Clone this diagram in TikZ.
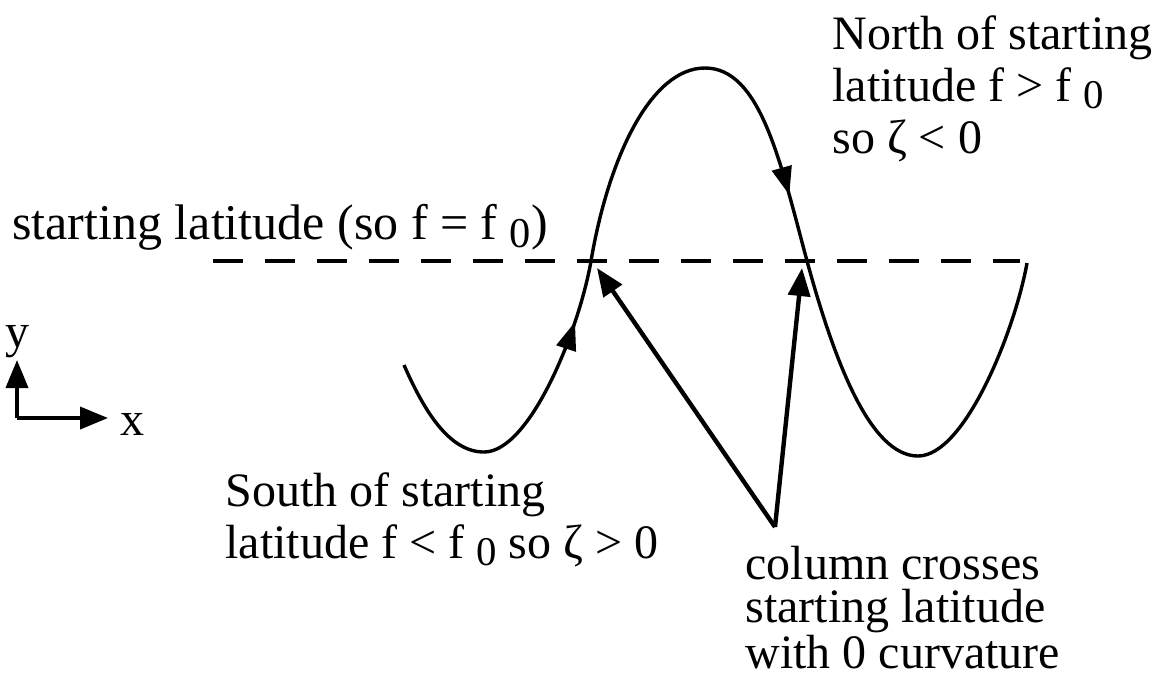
\documentclass[tikz,border=0pt]{standalone}
\usepackage{fontspec}
\setmainfont{Liberation Serif}
\usetikzlibrary{arrows.meta,decorations.markings}
\newcommand{\fnought}{f \raisebox{-0.35ex}{\scalebox{0.85}{0}}}

\begin{document}
\begin{tikzpicture}[x=0.5pt,y=-0.5pt,
    lbl/.style={font=\fontsize{24}{26}\selectfont, align=left,
                inner sep=0pt, anchor=north west},
    wave/.style={line width=1.7pt, postaction={decorate},
                 decoration={markings,
                   mark=at position 0.225 with {\arrow{Triangle[length=14pt,width=10pt]}},
                   mark=at position 0.585 with {\arrow{Triangle[length=14pt,width=10pt]}}}},
    pointer/.style={line width=2.2pt, -{Triangle[length=14pt,width=11pt]}},
    axis/.style={line width=1.9pt, -{Triangle[length=14pt,width=11pt]}},
    latline/.style={line width=1.8pt, dash pattern=on 15pt off 11pt},
  ]
  \useasboundingbox (0,0) rectangle (1154,677);

  % starting latitude
  \coordinate (latL) at (213,261);
  \coordinate (latR) at (1020,261);
  \draw[latline] (latL) -- (latR);
  \node[lbl, font=\fontsize{25}{26}\selectfont] (start) at (12,204)
    {starting latitude (so f = \fnought)};

  % column path
  \coordinate (cross1) at (591,261);
  \coordinate (cross2) at (807,261);
  \draw[wave] (404,365) .. controls (425,413) and (450,452) .. (484,452)
    .. controls (530,452) and (579,330) .. (cross1)
    .. controls (608,160) and (650,68) .. (705,68)
    .. controls (760,68) and (780,160) .. (cross2)
    .. controls (834,360) and (870,456) .. (918,456)
    .. controls (965,456) and (1015,330) .. (1027,263);

  % axes
  \coordinate (orig) at (17,418);
  \coordinate (ytip) at (17,360);
  \coordinate (xtip) at (108,418);
  \draw[axis] (orig) -- (ytip);
  \draw[axis] (orig) -- (xtip);
  \node[lbl, anchor=south] (ylab) at (17,358) {y};
  \node[lbl, anchor=west] (xlab) at (120,424) {x};

  % labels
  \node[lbl] (north) at (832,15)
    {North of starting\\latitude f > \fnought\\so ζ < 0};
  \node[lbl] (south) at (225,472)
    {South of starting\\latitude f < \fnought{} so ζ > 0};
  \node[lbl, font=\fontsize{24}{21.5}\selectfont] (column) at (745,546)
    {column crosses\\starting latitude\\with 0 curvature};

  % pointers to the crossings
  \coordinate (colpt) at (775,527);
  \coordinate (hit1) at (597,268);
  \coordinate (hit2) at (802,268);
  \draw[pointer] (colpt) -- (hit1);
  \draw[pointer] (colpt) -- (hit2);
\end{tikzpicture}
\end{document}
